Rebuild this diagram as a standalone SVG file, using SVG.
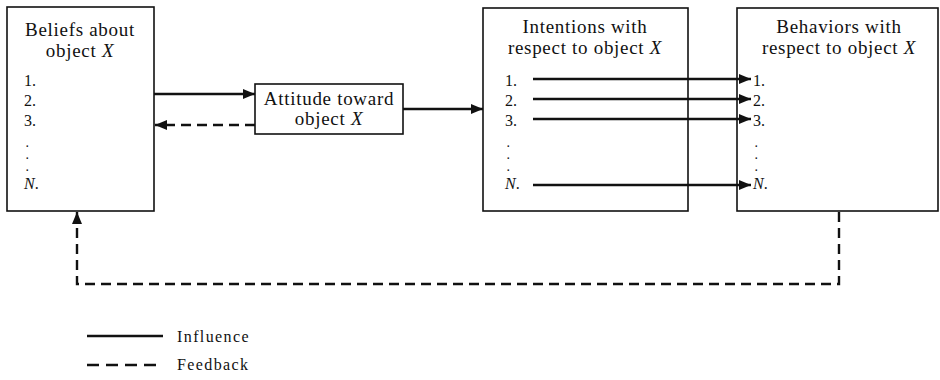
<svg xmlns="http://www.w3.org/2000/svg" width="940" height="380" viewBox="0 0 940 380">
<style>
.box{fill:#fff;stroke:#111;stroke-width:1.6}
.t{font-family:"Liberation Serif","Times New Roman",serif;font-size:19px;letter-spacing:0.7px;fill:#111}
.i{font-family:"Liberation Serif","Times New Roman",serif;font-size:16px;fill:#111}
.d{font-family:"Liberation Serif","Times New Roman",serif;font-size:10px;font-weight:bold;fill:#111}
.lg{font-family:"Liberation Serif","Times New Roman",serif;font-size:16px;letter-spacing:1.4px;fill:#111}
.it{font-style:italic}
.solid{fill:none;stroke:#111;stroke-width:2.4}
.dash{fill:none;stroke:#111;stroke-width:2.4;stroke-dasharray:10 6}
</style>
<defs>
<marker id="ah" viewBox="0 0 12 10" refX="12" refY="5" markerWidth="12" markerHeight="10" markerUnits="userSpaceOnUse" orient="auto">
<path d="M0,0 L12,5 L0,10 Z" fill="#111"/>
</marker>
</defs>
<g id="beliefs">
<rect class="box" x="7" y="7" width="147" height="204"/>
<text class="t" x="80" y="36" text-anchor="middle">Beliefs about</text>
<text class="t" x="80" y="57" text-anchor="middle">object <tspan class="it">X</tspan></text>
<text class="i" x="24" y="86">1.</text>
<text class="i" x="24" y="106">2.</text>
<text class="i" x="24" y="126">3.</text>
<text class="d" x="26" y="147">.</text>
<text class="d" x="26" y="159">.</text>
<text class="d" x="26" y="171">.</text>
<text class="i it" x="24" y="189">N<tspan font-style="normal">.</tspan></text>
</g>
<g id="attitude">
<rect class="box" x="255" y="84" width="148" height="50"/>
<text class="t" x="329" y="105" text-anchor="middle">Attitude toward</text>
<text class="t" x="329" y="125" text-anchor="middle">object <tspan class="it">X</tspan></text>
</g>
<g id="intentions">
<rect class="box" x="483" y="8" width="205" height="203"/>
<text class="t" x="585" y="33" text-anchor="middle">Intentions with</text>
<text class="t" x="585" y="54" text-anchor="middle">respect to object <tspan class="it">X</tspan></text>
<text class="i" x="505" y="86">1.</text>
<text class="i" x="505" y="106">2.</text>
<text class="i" x="505" y="126">3.</text>
<text class="d" x="507" y="147">.</text>
<text class="d" x="507" y="159">.</text>
<text class="d" x="507" y="171">.</text>
<text class="i it" x="505" y="189">N<tspan font-style="normal">.</tspan></text>
</g>
<g id="behaviors">
<rect class="box" x="737" y="8" width="201" height="203"/>
<text class="t" x="839" y="33" text-anchor="middle">Behaviors with</text>
<text class="t" x="839" y="54" text-anchor="middle">respect to object <tspan class="it">X</tspan></text>
<text class="i" x="753" y="86">1.</text>
<text class="i" x="753" y="106">2.</text>
<text class="i" x="753" y="126">3.</text>
<text class="d" x="755" y="147">.</text>
<text class="d" x="755" y="159">.</text>
<text class="d" x="755" y="171">.</text>
<text class="i it" x="753" y="189">N<tspan font-style="normal">.</tspan></text>
</g>
<g id="connectors">
<line class="solid" x1="154" y1="94" x2="255" y2="94" marker-end="url(#ah)"/>
<line class="dash" x1="255" y1="125" x2="155" y2="125" marker-end="url(#ah)"/>
<line class="solid" x1="403" y1="109" x2="483" y2="109" marker-end="url(#ah)"/>
<line class="solid" x1="533" y1="79" x2="751" y2="79" marker-end="url(#ah)"/>
<line class="solid" x1="533" y1="99" x2="751" y2="99" marker-end="url(#ah)"/>
<line class="solid" x1="533" y1="119" x2="751" y2="119" marker-end="url(#ah)"/>
<line class="solid" x1="533" y1="185" x2="751" y2="185" marker-end="url(#ah)"/>
<path class="dash" d="M839,212 L839,284 L77,284 L77,212" marker-end="url(#ah)"/>
</g>
<g id="legend">
<line class="solid" x1="87" y1="336" x2="163" y2="336"/>
<text class="lg" x="177" y="342">Influence</text>
<line class="dash" x1="87" y1="365" x2="163" y2="365" style="stroke-dasharray:12 7"/>
<text class="lg" x="177" y="370">Feedback</text>
</g>
</svg>
